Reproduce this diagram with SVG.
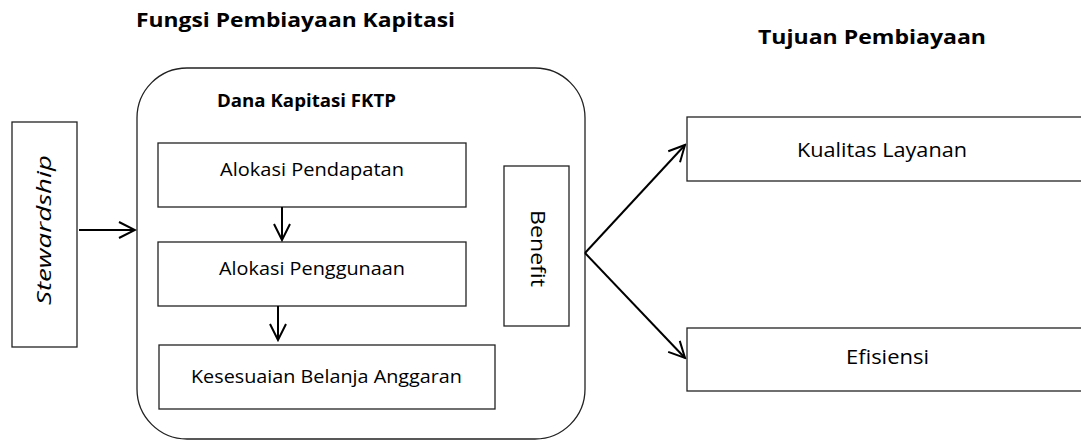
<svg xmlns="http://www.w3.org/2000/svg" width="1081" height="441" viewBox="0 0 1081 441">
<style>
.box{fill:#fff;stroke:#222;stroke-width:1.3}
.t{font-family:"Open Sans","Liberation Sans",sans-serif;font-size:18px;fill:#000}
.h{font-size:20px;font-weight:bold}
.b{font-weight:bold}
.c{stroke:#000;stroke-width:2;fill:none;marker-end:url(#ah)}
</style>
<defs>
<marker id="ah" viewBox="0 0 20 20" refX="18" refY="10" markerWidth="20" markerHeight="20" markerUnits="userSpaceOnUse" orient="auto">
<polyline points="2,2 18,10 2,18" fill="none" stroke="#000" stroke-width="2"/>
</marker>
</defs>
<rect width="1081" height="441" fill="#fff"/>
<g id="title1"><text class="t h" x="136" y="27" textLength="319" lengthAdjust="spacingAndGlyphs">Fungsi Pembiayaan Kapitasi</text></g>
<g id="title2"><text class="t h" x="758" y="44" textLength="228" lengthAdjust="spacingAndGlyphs">Tujuan Pembiayaan</text></g>
<g id="stewardship">
<rect class="box" x="12" y="122" width="65" height="225"/>
<text class="t" font-style="italic" transform="translate(51,305) rotate(-90)" x="0" y="0" style="font-size:20px" textLength="150" lengthAdjust="spacingAndGlyphs">Stewardship</text>
</g>
<g id="dana">
<rect class="box" x="137" y="68" width="448" height="371" rx="50" ry="50" stroke="#444"/>
<text class="t b" x="217" y="107" style="font-size:17px" textLength="179" lengthAdjust="spacingAndGlyphs">Dana Kapitasi FKTP</text>
</g>
<g id="alokasi-pendapatan">
<rect class="box" x="158" y="143" width="308" height="64"/>
<text class="t" x="220" y="176" textLength="184" lengthAdjust="spacingAndGlyphs">Alokasi Pendapatan</text>
</g>
<g id="alokasi-penggunaan">
<rect class="box" x="158" y="242" width="308" height="64"/>
<text class="t" x="219" y="275" textLength="186" lengthAdjust="spacingAndGlyphs">Alokasi Penggunaan</text>
</g>
<g id="kesesuaian">
<rect class="box" x="159" y="345" width="336" height="64"/>
<text class="t" x="191" y="383" textLength="271" lengthAdjust="spacingAndGlyphs">Kesesuaian Belanja Anggaran</text>
</g>
<g id="benefit">
<rect class="box" x="504" y="166" width="65" height="160"/>
<text class="t" transform="translate(531,210) rotate(90)" x="0" y="0" style="font-size:20px" textLength="77" lengthAdjust="spacingAndGlyphs">Benefit</text>
</g>
<g id="kualitas">
<rect class="box" x="687" y="117" width="400" height="64"/>
<text class="t" x="797" y="157" style="font-size:20px" textLength="170" lengthAdjust="spacingAndGlyphs">Kualitas Layanan</text>
</g>
<g id="efisiensi">
<rect class="box" x="687" y="328" width="400" height="63"/>
<text class="t" x="846" y="364" style="font-size:20px" textLength="83" lengthAdjust="spacingAndGlyphs">Efisiensi</text>
</g>
<g id="connectors">
<line class="c" x1="79" y1="230" x2="135" y2="230"/>
<line class="c" x1="282" y1="207" x2="282" y2="240"/>
<line class="c" x1="278" y1="306" x2="278" y2="340"/>
<line class="c" x1="585" y1="253" x2="685" y2="145"/>
<line class="c" x1="585" y1="253" x2="685" y2="358"/>
</g>
</svg>
